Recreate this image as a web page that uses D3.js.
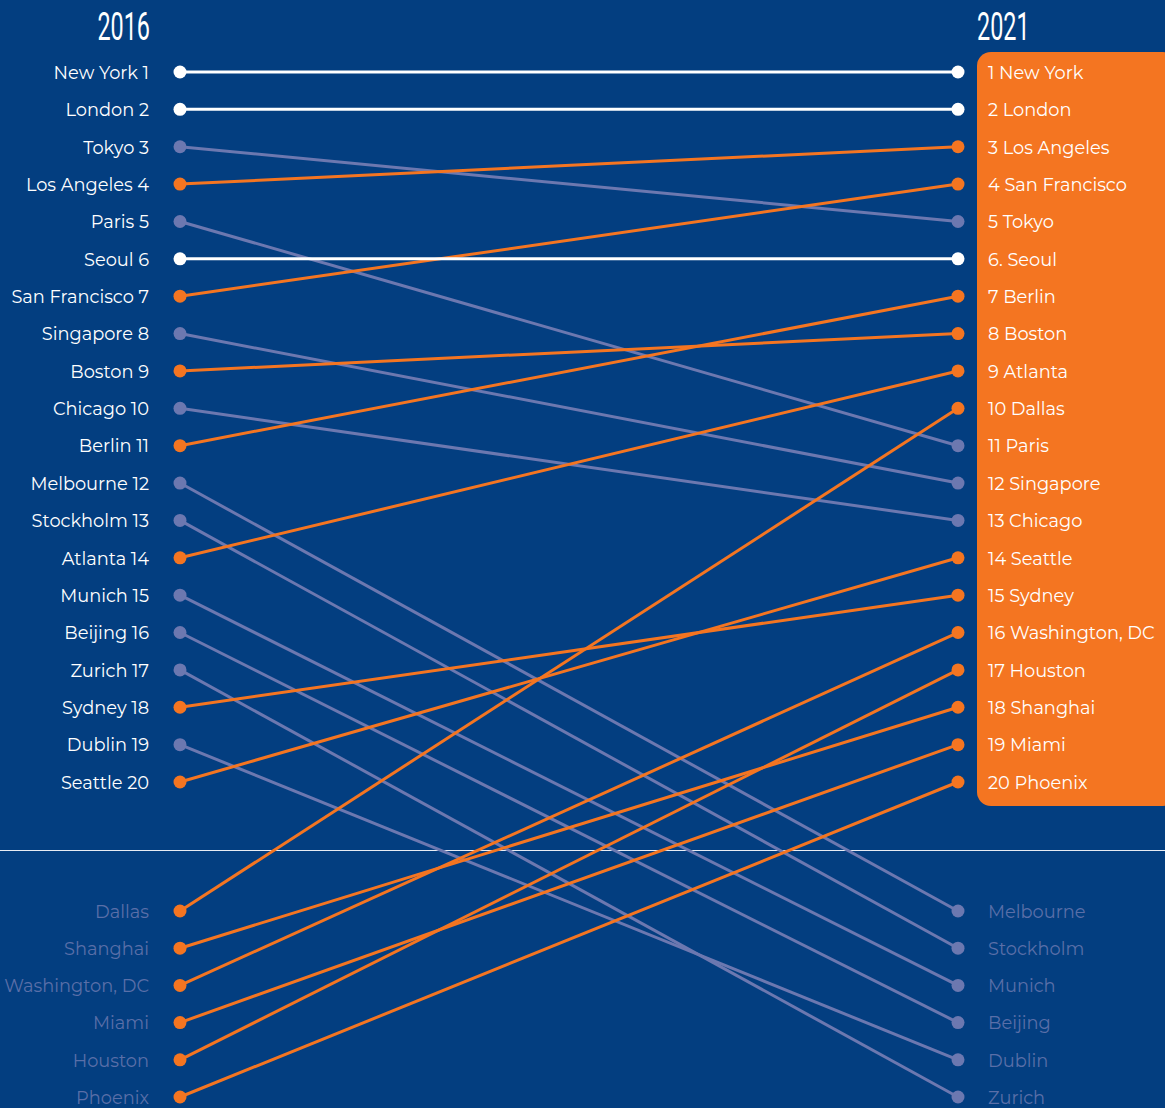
<!DOCTYPE html>
<html><head><meta charset="utf-8">
<script src="https://cdn.jsdelivr.net/npm/d3@7"></script>
<style>
html,body{margin:0;padding:0;background:#033e80;}
svg{display:block;}
</style></head>
<body>
<script>
// ---- data ----
const years = ["2016", "2021"];
const ranks2016 = ["New York","London","Tokyo","Los Angeles","Paris","Seoul","San Francisco","Singapore","Boston","Chicago","Berlin","Melbourne","Stockholm","Atlanta","Munich","Beijing","Zurich","Sydney","Dublin","Seattle"];
const ranks2021 = ["New York","London","Los Angeles","San Francisco","Tokyo","Seoul","Berlin","Boston","Atlanta","Dallas","Paris","Singapore","Chicago","Seattle","Sydney","Washington, DC","Houston","Shanghai","Miami","Phoenix"];
const labels2021 = ["1 New York","2 London","3 Los Angeles","4 San Francisco","5 Tokyo","6. Seoul","7 Berlin","8 Boston","9 Atlanta","10 Dallas","11 Paris","12 Singapore","13 Chicago","14 Seattle","15 Sydney","16 Washington, DC","17 Houston","18 Shanghai","19 Miami","20 Phoenix"];
const newIn2021 = ["Dallas","Shanghai","Washington, DC","Miami","Houston","Phoenix"];
const outIn2021 = ["Melbourne","Stockholm","Munich","Beijing","Dublin","Zurich"];

const W = 1165, H = 1108;
const C = {bg:"#033e80", orange:"#f47521", lilac:"#6c78b0", white:"#ffffff", dim:"#5a6fa8"};
const FONT = "Montserrat, 'Open Sans', Lato, sans-serif";
const FS = 17.8;

const svg = d3.select("body").append("svg").attr("width", W).attr("height", H);
svg.append("rect").attr("width", W).attr("height", H).attr("fill", C.bg);

const x = d3.scalePoint().domain(years).range([180, 958]);
const yTop = d3.scaleLinear().domain([1, 20]).range([72, 782]);
const yBot = d3.scaleLinear().domain([0, 5]).range([911, 1097]);

// orange box
svg.append("rect").attr("x", 977).attr("y", 52).attr("width", 200).attr("height", 754)
  .attr("rx", 14).attr("fill", C.orange);

// divider
svg.append("line").attr("x1", 0).attr("x2", W).attr("y1", 850.5).attr("y2", 850.5)
  .attr("stroke", "#e8ecf4").attr("stroke-width", 1);

// build links
const links = [];
ranks2016.forEach((c, i) => {
  const j = ranks2021.indexOf(c);
  const y0 = yTop(i + 1);
  const y1 = j >= 0 ? yTop(j + 1) : yBot(outIn2021.indexOf(c));
  const col = j === i ? C.white : (j >= 0 && j < i ? C.orange : C.lilac);
  links.push({c, y0, y1, col});
});
newIn2021.forEach((c, k) => {
  const j = ranks2021.indexOf(c);
  links.push({c, y0: yBot(k), y1: yTop(j + 1), col: C.orange});
});

const order = {[C.lilac]:0, [C.orange]:1, [C.white]:2};
links.sort((a,b)=>order[a.col]-order[b.col]);

const g = svg.append("g");
g.selectAll("line.link").data(links).join("line")
  .attr("x1", x("2016")).attr("x2", x("2021"))
  .attr("y1", d => d.y0).attr("y2", d => d.y1)
  .attr("stroke", d => d.col).attr("stroke-width", 3);
g.selectAll("circle.l").data(links).join("circle")
  .attr("cx", x("2016")).attr("cy", d => d.y0).attr("r", 6.5).attr("fill", d => d.col);
g.selectAll("circle.r").data(links).join("circle")
  .attr("cx", x("2021")).attr("cy", d => d.y1).attr("r", 6.5).attr("fill", d => d.col);

// titles (condensed)
const TF = "Roboto, 'Liberation Sans', sans-serif";
svg.append("text").attr("transform", "translate(150,40) scale(0.6,1)").attr("text-anchor", "end")
  .attr("font-family", TF).attr("font-weight", 400).attr("font-size", 39).attr("fill", C.white).text(years[0]);
svg.append("text").attr("transform", "translate(977,40) scale(0.6,1)").attr("text-anchor", "start")
  .attr("font-family", TF).attr("font-weight", 400).attr("font-size", 39).attr("fill", C.white).text(years[1]);

// left labels
svg.selectAll("text.l").data(ranks2016).join("text")
  .attr("x", 149).attr("y", (d,i) => yTop(i+1)).attr("dy", "0.38em")
  .attr("text-anchor", "end").attr("font-family", FONT).attr("font-size", FS)
  .attr("fill", C.white).text((d,i) => d + " " + (i+1));
svg.selectAll("text.lb").data(newIn2021).join("text")
  .attr("x", 149).attr("y", (d,i) => yBot(i)).attr("dy", "0.38em")
  .attr("text-anchor", "end").attr("font-family", FONT).attr("font-size", FS)
  .attr("fill", C.dim).text(d => d);
// right labels
svg.selectAll("text.r").data(labels2021).join("text")
  .attr("x", 988).attr("y", (d,i) => yTop(i+1)).attr("dy", "0.38em")
  .attr("font-family", FONT).attr("font-size", FS)
  .attr("fill", C.white).text(d => d);
svg.selectAll("text.rb").data(outIn2021).join("text")
  .attr("x", 988).attr("y", (d,i) => yBot(i)).attr("dy", "0.38em")
  .attr("font-family", FONT).attr("font-size", FS)
  .attr("fill", C.dim).text(d => d);
</script>
</body></html>
